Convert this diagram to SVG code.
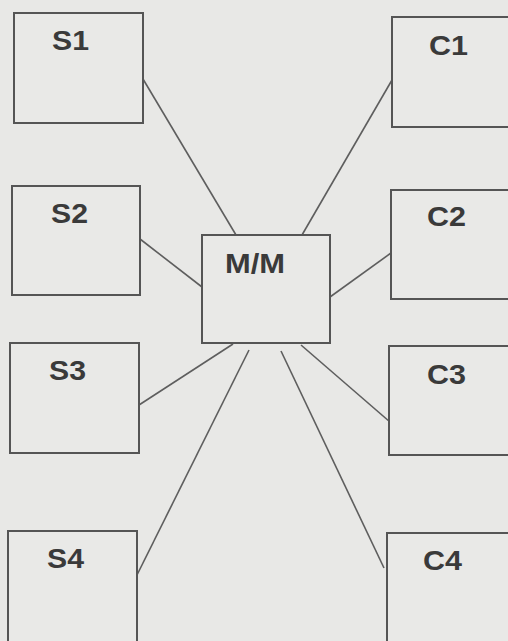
<svg xmlns="http://www.w3.org/2000/svg" width="508" height="641" viewBox="0 0 508 641">
  <style>
    .box { fill: #e9e9e7; stroke: #555; stroke-width: 2; }
    .lbl { font-family: "Liberation Sans", Arial, sans-serif; font-weight: bold; font-size: 28px; fill: #3a3a3a; }
    .link { stroke: #5e5e5e; stroke-width: 1.6; fill: none; }
  </style>
  <rect width="508" height="641" fill="#e8e8e6"/>

  <g id="connectors">
    <line class="link" x1="143" y1="79" x2="236" y2="235"/>
    <line class="link" x1="140" y1="239" x2="202" y2="287"/>
    <line class="link" x1="139" y1="405" x2="233" y2="344"/>
    <line class="link" x1="133" y1="583" x2="249" y2="350"/>
    <line class="link" x1="302" y1="235" x2="392" y2="80"/>
    <line class="link" x1="330" y1="297" x2="391" y2="253"/>
    <line class="link" x1="301" y1="345" x2="390" y2="422"/>
    <line class="link" x1="281" y1="351" x2="384" y2="568"/>
  </g>

  <g id="S1"><rect class="box" x="14" y="13" width="129" height="110"/><text class="lbl" x="52" y="50" textLength="37" lengthAdjust="spacingAndGlyphs">S1</text></g>
  <g id="S2"><rect class="box" x="12" y="186" width="128" height="109"/><text class="lbl" x="51" y="223" textLength="37" lengthAdjust="spacingAndGlyphs">S2</text></g>
  <g id="S3"><rect class="box" x="10" y="343" width="129" height="110"/><text class="lbl" x="49" y="380" textLength="37" lengthAdjust="spacingAndGlyphs">S3</text></g>
  <g id="S4"><rect class="box" x="8" y="531" width="129" height="115"/><text class="lbl" x="47" y="568" textLength="37" lengthAdjust="spacingAndGlyphs">S4</text></g>

  <g id="MM"><rect class="box" x="202" y="235" width="128" height="108"/><text class="lbl" x="225" y="273" textLength="60" lengthAdjust="spacingAndGlyphs">M/M</text></g>

  <g id="C1"><rect class="box" x="392" y="17" width="125" height="110"/><text class="lbl" x="429" y="55" textLength="39" lengthAdjust="spacingAndGlyphs">C1</text></g>
  <g id="C2"><rect class="box" x="391" y="190" width="125" height="109"/><text class="lbl" x="427" y="226" textLength="39" lengthAdjust="spacingAndGlyphs">C2</text></g>
  <g id="C3"><rect class="box" x="389" y="346" width="125" height="109"/><text class="lbl" x="427" y="384" textLength="39" lengthAdjust="spacingAndGlyphs">C3</text></g>
  <g id="C4"><rect class="box" x="387" y="533" width="125" height="115"/><text class="lbl" x="423" y="570" textLength="39" lengthAdjust="spacingAndGlyphs">C4</text></g>
</svg>
